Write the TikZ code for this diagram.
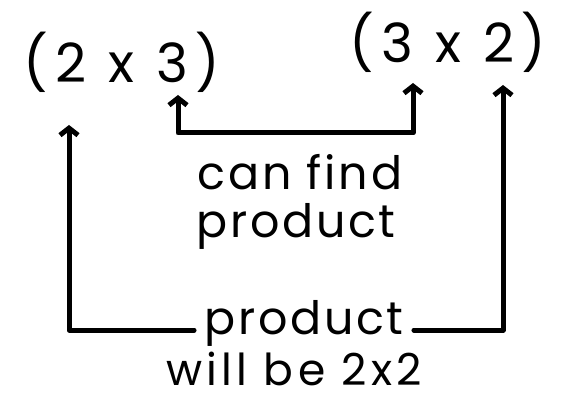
\documentclass[tikz,border=0pt]{standalone}
\usepackage{fontspec}
\setmainfont{Poppins}
\usetikzlibrary{arrows.meta}

\begin{document}
\begin{tikzpicture}[x=1pt,y=-1pt,
    hand/.style={font=\fontsize{46}{50}\selectfont\addfontfeature{LetterSpace=6}, inner sep=0pt},
    big/.style={font=\fontsize{54}{58}\selectfont\addfontfeature{LetterSpace=14}, inner sep=0pt},
    link/.style={line width=5pt, line cap=round, line join=round},
    barb/.style={link, -{Straight Barb[length=7pt,width=18pt]}}]
  \useasboundingbox (0,0) rectangle (567,403);
  % the two matrices
  \node[big] (mA) at (122,62) {(2 x 3)};
  \node[big] (mB) at (448,42) {(3 x 2)};
  % labels
  \node[hand, anchor=base] (can)  at (300,190) {can find};
  \node[hand, anchor=base] (prodA) at (296,238) {product};
  \node[hand, anchor=base] (prodB) at (304,334) {product};
  \node[hand, anchor=base, font=\fontsize{44}{48}\selectfont\addfontfeature{LetterSpace=10}] (will) at (294,385) {will be 2x2};
  % inner bracket: columns of A meet rows of B
  \coordinate (tipA) at (178,95);
  \coordinate (tipB) at (413,83);
  \coordinate (cornA) at (178,133);
  \coordinate (cornB) at (413,133);
  \draw[link, {Straight Barb[length=7pt,width=18pt]}-{Straight Barb[length=7pt,width=18pt]}]
    (tipA) -- (cornA) -- (cornB) -- (tipB);
  % outer bracket: rows of A, columns of B
  \coordinate (outA) at (69,125);
  \coordinate (outB) at (503,85);
  \draw[barb] ([xshift=-10pt,yshift=4pt]prodB.base west) -| (outA);
  \draw[barb] ([xshift=10pt,yshift=4pt]prodB.base east) -| (outB);
\end{tikzpicture}
\end{document}
